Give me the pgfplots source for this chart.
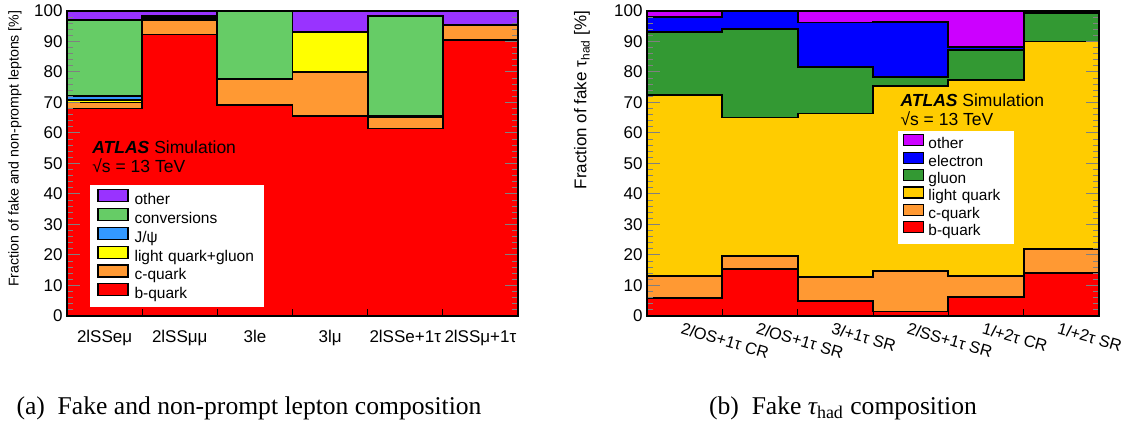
\documentclass[border=0pt]{standalone}
\usepackage{fontspec}
\setmainfont{Liberation Sans}
\newfontfamily\capfont{Liberation Serif}
\usepackage{pgfplots}
\pgfplotsset{compat=1.18}

\definecolor{Lother}{RGB}{153,51,255}
\definecolor{Lconv}{RGB}{102,204,102}
\definecolor{Ljpsi}{RGB}{51,153,255}
\definecolor{Llqg}{RGB}{255,255,0}
\definecolor{Cq}{RGB}{255,153,51}
\definecolor{Bq}{RGB}{255,0,0}
\definecolor{Rother}{RGB}{204,0,255}
\definecolor{Rele}{RGB}{0,0,255}
\definecolor{Rglu}{RGB}{51,153,51}
\definecolor{Rlq}{RGB}{255,204,0}

\pgfplotsset{
  atlas/.style={
    scale only axis, height=152.5pt,
    xmin=0,xmax=6,ymin=0,ymax=100,
    axis on top,
    ytick={0,10,...,100}, minor y tick num=4,
    ytick pos=both, xtick pos=lower,
    tick align=inside,
    major tick length=6.5pt, minor tick length=3pt,
    xtick={0.5,1.5,...,5.5},
    xtick style={draw=none},
    extra x ticks={1,2,3,4,5}, extra x tick labels={},
    extra x tick style={major tick length=3.5pt, xtick style={draw=black}},
    tick style={line width=0.5pt},
    axis line style={line width=0.8pt},
    /pgf/number format/assume math mode=true,
    yticklabel style={font=\fontsize{8.5}{10}\selectfont, inner sep=0pt, xshift=-2pt},
    legend cell align=left,
  },
  stk/.style={const plot, draw=black, line width=0.9pt, fill=#1},
}

\begin{document}
\begin{tikzpicture}
\path[use as bounding box] (0,0) rectangle (569pt,213pt);

% ---------------- left panel ----------------
\begin{axis}[atlas, at={(33.5pt,55pt)}, anchor=south west, width=225.5pt,
  xticklabels={2lSSeμ,2lSSμμ,3le,3lμ,2lSSe+1τ,2lSSμ+1τ},
  xticklabel style={font=\fontsize{8.5}{10}\selectfont, inner sep=0pt, yshift=-7pt},
  ylabel={Fraction of fake and non-prompt leptons [\%]},
  ylabel style={at={(axis description cs:-0.1153,1.003)}, anchor=east, inner sep=0pt, font=\fontsize{7.1}{8}\selectfont},
  legend image code/.code={\draw[#1,draw=black,line width=0.6pt] (0pt,-0.6pt) rectangle (15pt,5.4pt);},
  legend style={at={(rel axis cs:0.051,0.43)}, anchor=north west, draw=none, fill=white,
    inner xsep=3.5pt, inner ysep=2pt, row sep=-0.7pt, column sep=3pt,
    font=\fontsize{7.75}{9}\selectfont,
    nodes={inner xsep=0pt, inner ysep=0.8pt, text height=5.6pt, text depth=1.6pt, text width=61pt}},
  legend entries={other,conversions,J/ψ,light quark+gluon,c-quark,b-quark},
]
\addplot[stk=Lother] coordinates {(0,100)(1,100)(2,100)(3,100)(4,100)(5,100)(6,100)} \closedcycle;
\addplot[stk=Lconv]  coordinates {(0,97.0)(1,98.4)(2,100)(3,93.1)(4,98.3)(5,95.5)(6,95.5)} \closedcycle;
\addplot[stk=Ljpsi]  coordinates {(0,72.0)(1,97.8)(2,77.6)(3,93.1)(4,65.7)(5,95.5)(6,95.5)} \closedcycle;
\addplot[stk=Llqg]   coordinates {(0,70.8)(1,97.3)(2,77.6)(3,93.1)(4,65.3)(5,95.5)(6,95.5)} \closedcycle;
\addplot[stk=Cq]     coordinates {(0,70.0)(1,97.0)(2,77.6)(3,79.9)(4,65.1)(5,95.5)(6,95.5)} \closedcycle;
\addplot[stk=Bq]     coordinates {(0,68.0)(1,92.3)(2,69.3)(3,65.5)(4,61.5)(5,90.6)(6,90.6)} \closedcycle;
\node[anchor=base west, font=\fontsize{8.75}{10}\selectfont, inner sep=0pt] at (rel axis cs:0.0554,0.534) {\textbf{\textit{ATLAS}} Simulation};
\node[anchor=base west, font=\fontsize{8.75}{10}\selectfont, inner sep=0pt] at (rel axis cs:0.0554,0.472) {√s = 13 TeV};
\end{axis}

% ---------------- right panel ----------------
\begin{axis}[atlas, at={(323.5pt,55pt)}, anchor=south west, width=226pt,
  xticklabels={2\textit{l}OS+1τ CR,2\textit{l}OS+1τ SR,3\textit{l}+1τ SR,2\textit{l}SS+1τ SR,1\textit{l}+2τ CR,1\textit{l}+2τ SR},
  xticklabel style={font=\fontsize{8.2}{10}\selectfont, inner sep=0pt, rotate=-16, anchor=north west, yshift=-3pt},
  ylabel={Fraction of fake τ\textsubscript{had} [\%]},
  ylabel style={at={(axis description cs:-0.1438,1.003)}, anchor=east, inner sep=0pt, font=\fontsize{8.5}{10}\selectfont},
  legend image code/.code={\draw[#1,draw=black,line width=0.6pt] (0pt,-0.5pt) rectangle (10pt,5pt);},
  legend style={at={(rel axis cs:0.555,0.607)}, anchor=north west, draw=none, fill=white,
    inner xsep=2.5pt, inner ysep=1.5pt, row sep=-0.95pt, column sep=2pt,
    font=\fontsize{7.7}{9}\selectfont,
    nodes={inner xsep=0pt, inner ysep=0.8pt, text height=5.5pt, text depth=1.6pt, text width=40.5pt}},
  legend entries={other,electron,gluon,light quark,c-quark,b-quark},
]
\addplot[stk=Rother] coordinates {(0,100)(1,100)(2,100)(3,100)(4,100)(5,100)(6,100)} \closedcycle;
\addplot[stk=Rele]   coordinates {(0,97.9)(1,100)(2,96.2)(3,96.5)(4,88.3)(5,99.6)(6,99.6)} \closedcycle;
\addplot[stk=Rglu]   coordinates {(0,93.0)(1,94.1)(2,81.7)(3,78.3)(4,87.2)(5,99.2)(6,99.2)} \closedcycle;
\addplot[stk=Rlq]    coordinates {(0,72.4)(1,65.1)(2,66.4)(3,75.5)(4,77.4)(5,90.0)(6,90.0)} \closedcycle;
\addplot[stk=Cq]     coordinates {(0,13.2)(1,19.7)(2,12.9)(3,14.8)(4,13.2)(5,21.9)(6,21.9)} \closedcycle;
\addplot[stk=Bq]     coordinates {(0,6.0)(1,15.3)(2,4.9)(3,1.5)(4,6.3)(5,14.2)(6,14.2)} \closedcycle;
\node[anchor=base west, font=\fontsize{8.75}{10}\selectfont, inner sep=0pt] at (rel axis cs:0.560,0.686) {\textbf{\textit{ATLAS}} Simulation};
\node[anchor=base west, font=\fontsize{8.75}{10}\selectfont, inner sep=0pt] at (rel axis cs:0.560,0.623) {√s = 13 TeV};
\end{axis}

% ---------------- captions ----------------
\node[font=\capfont\fontsize{12.8}{14}\selectfont, inner sep=0pt] at (124.5pt,9pt) {(a)\hspace{0.5em}Fake and non-prompt lepton composition};
\node[font=\capfont\fontsize{12.8}{14}\selectfont, inner sep=0pt] at (421.5pt,9pt) {(b)\hspace{0.5em}Fake {\itshape τ}\textsubscript{had} composition};
\end{tikzpicture}
\end{document}
